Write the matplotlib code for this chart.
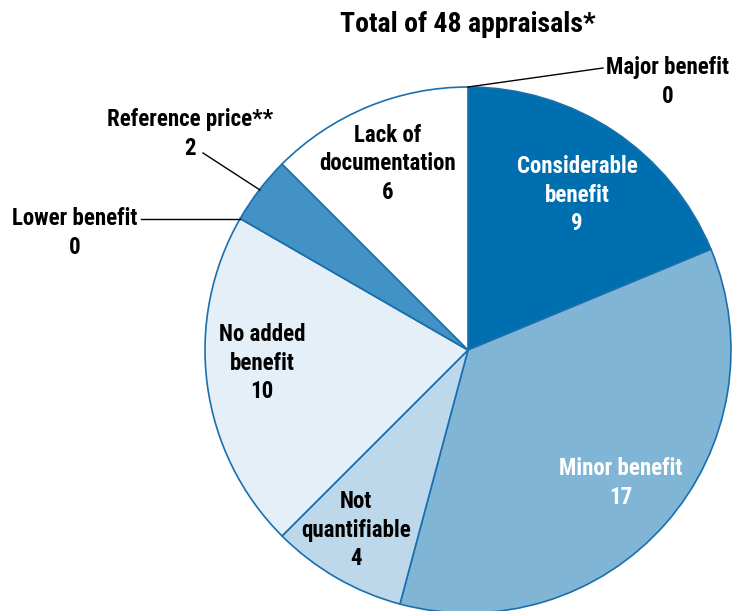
import matplotlib
matplotlib.use("Agg")
import matplotlib.pyplot as plt

# --------------------
# data
# --------------------
categories = ["Major benefit", "Considerable benefit", "Minor benefit", "Not quantifiable",
              "No added benefit", "Lower benefit", "Reference price**", "Lack of documentation"]
counts = [0, 9, 17, 4, 10, 0, 2, 6]
colors = ["#006fb0", "#006fb0", "#80b5d6", "#bdd8ea", "#e4eff7", "#e4eff7", "#4392c6", "#ffffff"]
title = "Total of 48 appraisals*"

plt.rcParams["font.family"] = ["Roboto Condensed", "DejaVu Sans"]
plt.rcParams["font.weight"] = "bold"

W, H = 732, 611
fig = plt.figure(figsize=(W / 100, H / 100), dpi=100)
ax = fig.add_axes([0, 0, 1, 1])

cx, cy, r = 468, H - 350, 263
ax.pie(counts, colors=colors, startangle=90, counterclock=False,
       center=(cx, cy), radius=r,
       wedgeprops=dict(edgecolor="#1a6fae", linewidth=1.2))

ax.set_xlim(0, W)
ax.set_ylim(0, H)
ax.set_aspect("equal")
ax.axis("off")

fs = 16.5
ls = 1.3
ax.text(468, H - 24, title, ha="center", va="center", fontsize=20)

# inside labels
ax.text(577, H - 195, "Considerable\nbenefit\n9", ha="center", va="center",
        fontsize=fs, color="white", linespacing=ls)
ax.text(621, H - 483, "Minor benefit\n17", ha="center", va="center",
        fontsize=fs, color="white", linespacing=ls)
ax.text(356, H - 530, "Not\nquantifiable\n4", ha="center", va="center",
        fontsize=fs, color="black", linespacing=ls)
ax.text(262, H - 363, "No added\nbenefit\n10", ha="center", va="center",
        fontsize=fs, color="black", linespacing=ls)
ax.text(388, H - 164, "Lack of\ndocumentation\n6", ha="center", va="center",
        fontsize=fs, color="black", linespacing=ls)

# outside labels with leader lines
ax.text(668, H - 82, "Major benefit\n0", ha="center", va="center",
        fontsize=fs, linespacing=ls)
ax.plot([468, 603], [H - 87, H - 68], color="black", lw=1)

ax.text(190, H - 134, "Reference price**\n2", ha="center", va="center",
        fontsize=fs, linespacing=ls)
ax.plot([203, 260], [H - 153, H - 190], color="black", lw=1)

ax.text(75, H - 233, "Lower benefit\n0", ha="center", va="center",
        fontsize=fs, linespacing=ls)
ax.plot([141, 240], [H - 219, H - 219], color="black", lw=1)

fig.savefig("out.png", dpi=100)
